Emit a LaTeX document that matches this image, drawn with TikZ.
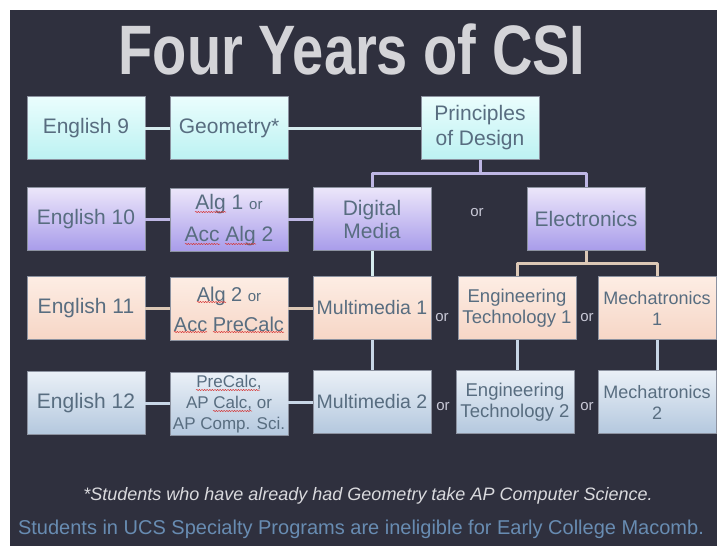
\documentclass[tikz,border=0pt]{standalone}
\usepackage{fontspec}
\setmainfont{Liberation Sans}
\usepackage{graphicx}
\usetikzlibrary{decorations.pathmorphing}
\newcommand\sor{{\fontsize{15}{15}\selectfont or}}

\begin{document}
\begin{tikzpicture}[x=1pt, y=-1pt, line join=round,
  box/.style={draw=boxedge, line width=0.6pt, minimum width=118pt, minimum height=63pt,
    inner sep=1pt, align=center, text=boxtext, font=\fontsize{21}{24}\selectfont},
  yrone/.style={box, top color=cyanA, bottom color=cyanB},
  yrtwo/.style={box, top color=lilacA, bottom color=lilacB},
  yrthree/.style={box, top color=peachA, bottom color=peachB},
  yrfour/.style={box, top color=steelA, bottom color=steelB},
  ortxt/.style={text=ortext, inner sep=0pt, font=\fontsize{15}{15}\selectfont},
  lk/.style={line width=3pt},
  squig/.style={spellred, line width=0.5pt, decorate,
    decoration={snake, amplitude=0.6pt, segment length=2.6pt}}]
  \definecolor{slate}{RGB}{47,48,62}
  \definecolor{titlegray}{RGB}{212,212,216}
  \definecolor{boxtext}{RGB}{88,109,128}
  \definecolor{boxedge}{RGB}{140,146,160}
  \definecolor{ortext}{RGB}{200,200,214}
  \definecolor{notegray}{RGB}{218,218,222}
  \definecolor{noteblue}{RGB}{104,140,178}
  \definecolor{spellred}{RGB}{214,52,52}
  \definecolor{cyanA}{RGB}{234,253,253}
  \definecolor{cyanB}{RGB}{188,242,242}
  \definecolor{lilacA}{RGB}{236,230,250}
  \definecolor{lilacB}{RGB}{168,156,234}
  \definecolor{peachA}{RGB}{253,237,228}
  \definecolor{peachB}{RGB}{246,214,198}
  \definecolor{steelA}{RGB}{234,240,247}
  \definecolor{steelB}{RGB}{180,200,222}
  \definecolor{lnone}{RGB}{214,236,238}
  \definecolor{lntwo}{RGB}{190,182,228}
  \definecolor{lnthree}{RGB}{220,200,182}
  \definecolor{lnfour}{RGB}{200,214,230}
  \useasboundingbox (0,0) rectangle (719,546);
  \fill[white] (0,0) rectangle (719,546);
  \fill[slate] (10,10) rectangle (717,546);
  \node[text=titlegray, font=\fontsize{70}{70}\selectfont\bfseries, anchor=base] (ttl) at (352,74)
    {\scalebox{0.8}[1]{Four Years of CSI}};
  % year 1
  \node[yrone] (eng9) at (86,128) {English 9};
  \node[yrone] (geo) at (229,128) {Geometry*};
  \node[yrone, font=\fontsize{21}{25}\selectfont] (pod) at (480,128) {Principles\\of Design};
  % year 2
  \node[yrtwo] (eng10) at (86,219) {English 10};
  \node[yrtwo, font=\fontsize{21}{32}\selectfont] (alga) at (229,220)
    {Alg 1 \sor\\Acc Alg 2};
  \node[yrtwo, font=\fontsize{21}{23}\selectfont] (dm) at (372,219) {Digital\\Media};
  \node[yrtwo] (elec) at (586,219) {Electronics};
  % year 3
  \node[yrthree] (eng11) at (86,308) {English 11};
  \node[yrthree, font=\fontsize{20}{30}\selectfont] (algb) at (229,309)
    {Alg 2 \sor\\Acc PreCalc};
  \node[yrthree, font=\fontsize{19.5}{22}\selectfont] (mma) at (372,308) {Multimedia 1};
  \node[yrthree, font=\fontsize{18.5}{21}\selectfont] (eta) at (517,308) {Engineering\\Technology 1};
  \node[yrthree, font=\fontsize{18}{21}\selectfont] (mca) at (657,308) {Mechatronics\\1};
  % year 4
  \node[yrfour] (eng12) at (86,403) {English 12};
  \node[yrfour, font=\fontsize{17}{21}\selectfont] (calc) at (229,404)
    {PreCalc,\\AP Calc, or\\AP Comp. Sci.};
  \node[yrfour, font=\fontsize{19.5}{22}\selectfont] (mmb) at (372,402) {Multimedia 2};
  \node[yrfour, font=\fontsize{18.5}{21}\selectfont] (etb) at (515,402) {Engineering\\Technology 2};
  \node[yrfour, font=\fontsize{18}{21}\selectfont] (mcb) at (657,402) {Mechatronics\\2};
  % spell-check marks
  \draw[squig] (195,212) -- (226,212);
  \draw[squig] (185,244) -- (220,244);
  \draw[squig] (225,244) -- (256,244);
  \draw[squig] (197,302) -- (226,302);
  \draw[squig] (174,332) -- (207,332);
  \draw[squig] (213,332) -- (284,332);
  \draw[squig] (196,390) -- (260,390);
  \draw[squig] (213,411) -- (252,411);
  % or between the choices
  \node[ortxt] (ora) at (477,213) {or};
  \node[ortxt] (orb) at (442,318) {or};
  \node[ortxt] (orc) at (587,318) {or};
  \node[ortxt] (ord) at (443,407) {or};
  \node[ortxt] (ore) at (587,407) {or};
  % links
  \draw[lk, lnone] (eng9) -- (geo);
  \draw[lk, lnone] (geo) -- (pod);
  \draw[lk, lntwo] (pod.south) -- ++(0,14) -| (dm.north);
  \draw[lk, lntwo] (pod.south) -- ++(0,14) -| (elec.north);
  \draw[lk, lntwo] (eng10.east) -- (alga.west |- eng10.east);
  \draw[lk, lntwo] (alga.east |- dm.west) -- (dm.west);
  \draw[lk, lnone] (dm) -- (mma);
  \draw[lk, lnthree] (elec.south) -- ++(0,13) -| (eta.north);
  \draw[lk, lnthree] (elec.south) -- ++(0,13) -| (mca.north);
  \draw[lk, lnthree] (eng11) -- (algb.west |- eng11.east);
  \draw[lk, lnthree] (algb.east |- mma.west) -- (mma);
  \draw[lk, lnfour] (mma) -- (mmb);
  \draw[lk, lnfour] (eta.south) -- (eta.south |- etb.north);
  \draw[lk, lnfour] (mca) -- (mcb);
  \draw[lk, lnfour] (eng12) -- (calc.west |- eng12.east);
  \draw[lk, lnfour] (calc.east |- mmb.west) -- (mmb);
  % notes
  \node[text=notegray, font=\fontsize{18}{18}\selectfont\itshape, anchor=base] (fn) at (368,500)
    {*Students who have already had Geometry take AP Computer Science.};
  \node[text=noteblue, font=\fontsize{20}{20}\selectfont, anchor=base] (warn) at (361,534)
    {Students in UCS Specialty Programs are ineligible for Early College Macomb.};
\end{tikzpicture}
\end{document}
